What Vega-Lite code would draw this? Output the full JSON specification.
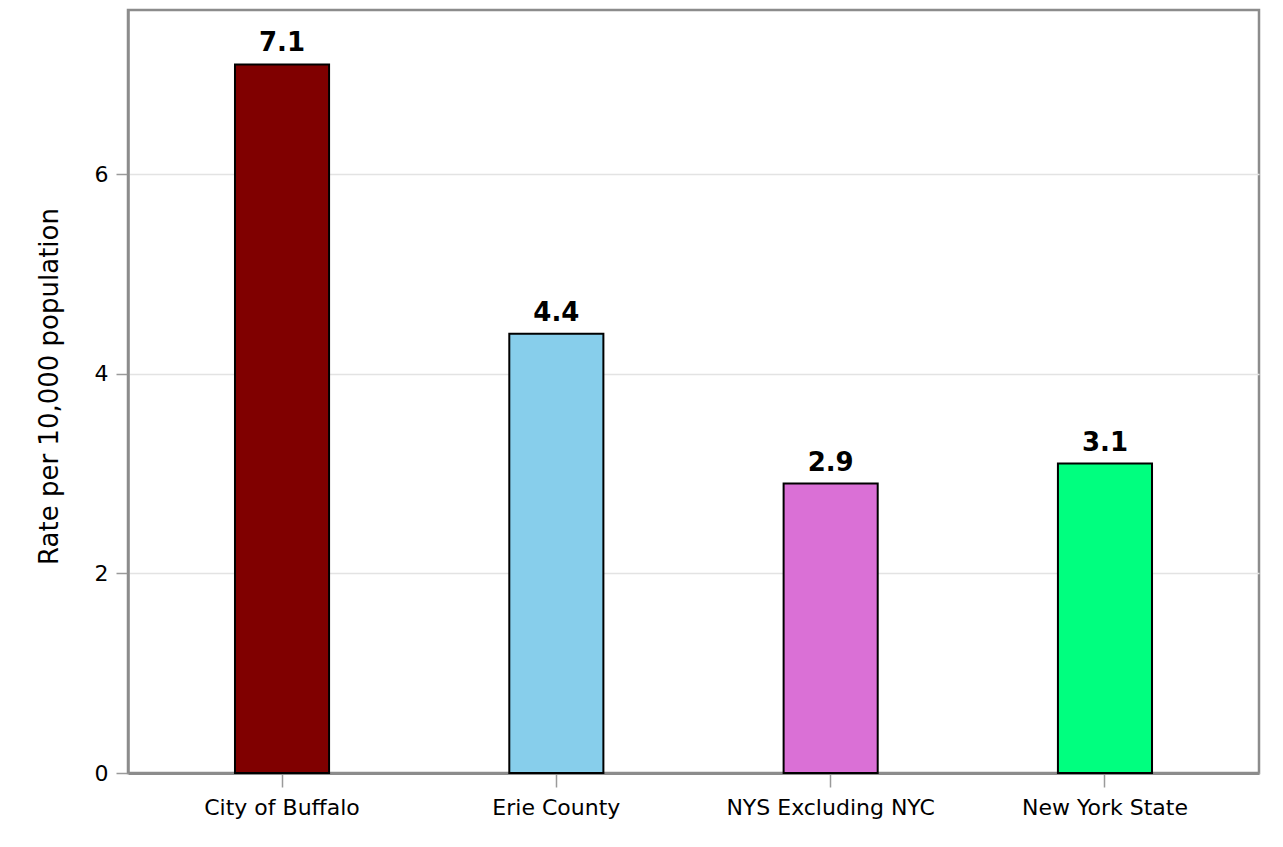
{
  "$schema": "https://vega.github.io/schema/vega-lite/v6.json",
  "width": 1131,
  "height": 763,
  "autosize": {"type": "none"},
  "padding": {"left": 128, "top": 10, "right": 24, "bottom": 74},
  "background": "white",
  "config": {
    "font": "DejaVu Sans",
    "view": {"stroke": "#8c8c8c", "strokeWidth": 2.5}
  },
  "data": {
    "values": [
      {"area": "City of Buffalo", "rate": 7.1, "color": "#800000"},
      {"area": "Erie County", "rate": 4.4, "color": "#87CEEB"},
      {"area": "NYS Excluding NYC", "rate": 2.9, "color": "#DA70D6"},
      {"area": "New York State", "rate": 3.1, "color": "#00FF7F"}
    ]
  },
  "encoding": {
    "x": {
      "field": "area",
      "type": "nominal",
      "sort": null,
      "scale": {"paddingInner": 0.657, "paddingOuter": 0.39},
      "axis": {
        "title": null,
        "labelAngle": 0,
        "labelFontSize": 22,
        "labelLimit": 0,
        "labelColor": "black",
        "labelPadding": 10,
        "tickSize": 14,
        "tickColor": "#9a9a9a",
        "tickWidth": 1.5,
        "domainColor": "#8c8c8c",
        "domainWidth": 3,
        "grid": false
      }
    },
    "y": {
      "field": "rate",
      "type": "quantitative",
      "scale": {"domain": [0, 7.645], "nice": false},
      "axis": {
        "title": "Rate per 10,000 population",
        "titleFontSize": 26,
        "titleFontWeight": "normal",
        "titleColor": "black",
        "titlePadding": 32,
        "titleY": 376,
        "values": [0, 2, 4, 6],
        "labelFontSize": 22,
        "labelColor": "black",
        "labelPadding": 8,
        "tickSize": 12,
        "tickColor": "#9a9a9a",
        "tickWidth": 1.5,
        "domainColor": "#8c8c8c",
        "domainWidth": 2.5,
        "gridColor": "#e3e3e3",
        "gridWidth": 1.5
      }
    }
  },
  "layer": [
    {
      "mark": {"type": "bar", "stroke": "black", "strokeWidth": 2},
      "encoding": {
        "color": {"field": "color", "type": "nominal", "scale": null}
      }
    },
    {
      "mark": {"type": "text", "dy": -8, "baseline": "bottom", "fontSize": 26, "fontWeight": "bold", "color": "black"},
      "encoding": {
        "text": {"field": "rate", "type": "quantitative", "format": ".1f"}
      }
    }
  ]
}
